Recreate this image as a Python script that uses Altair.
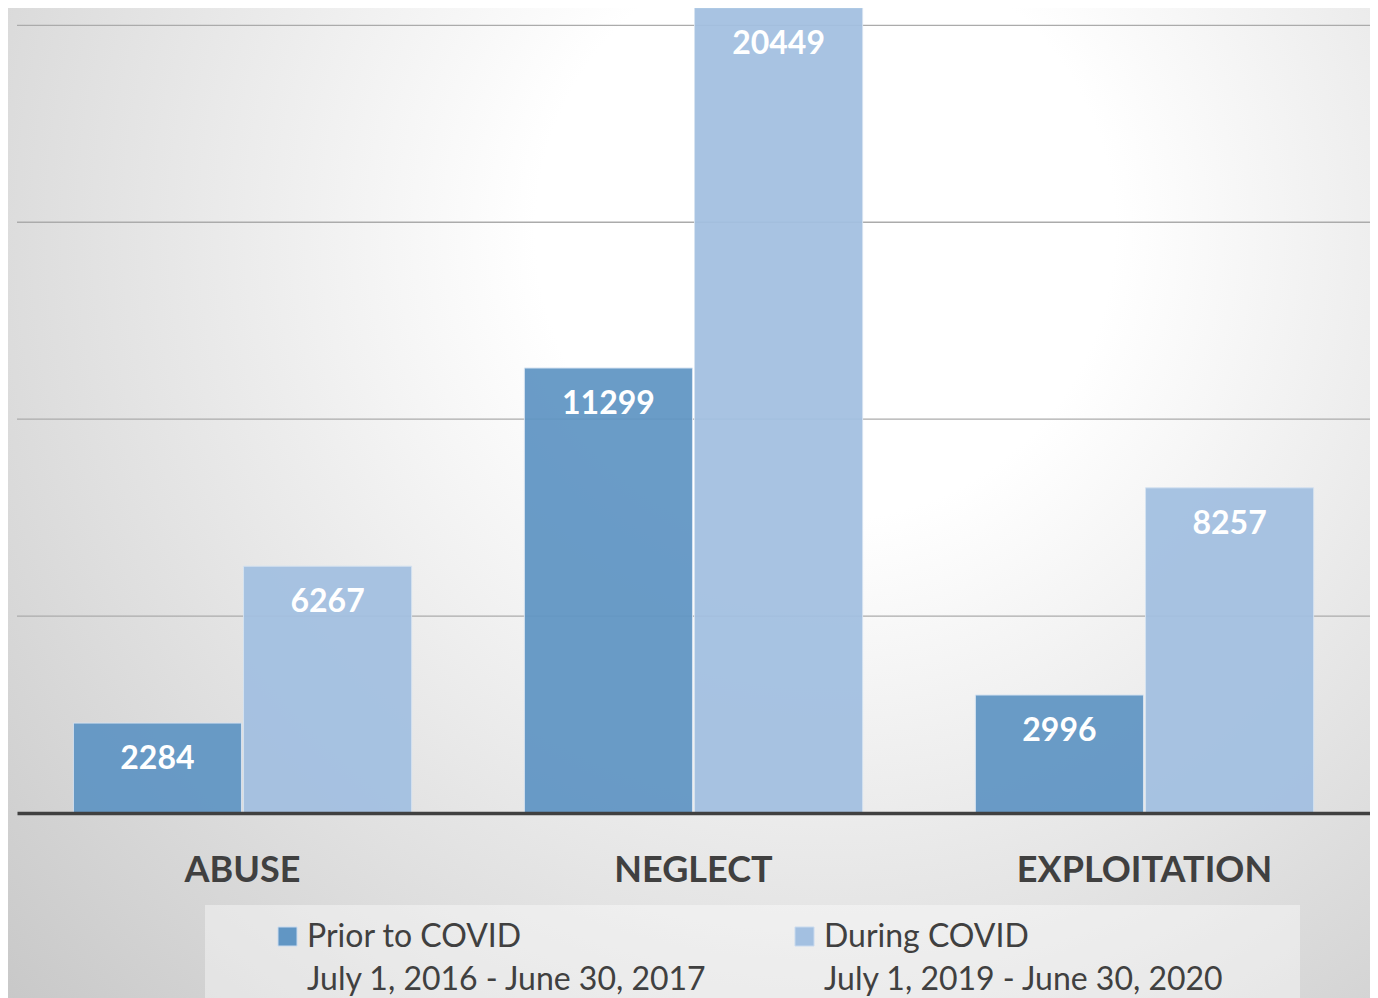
import altair as alt
import pandas as pd

categories = ["ABUSE", "NEGLECT", "EXPLOITATION"]
series = ["Prior to COVID", "During COVID"]
series_dates = ["July 1, 2016 - June 30, 2017", "July 1, 2019 - June 30, 2020"]
prior_values = [2284, 11299, 2996]
during_values = [6267, 20449, 8257]
grid_values = [5000, 10000, 15000, 20000]
colors = ["#6196c4", "#a3c0e1"]

rows = []
for c, p, d in zip(categories, prior_values, during_values):
    rows.append({"category": c, "period": series[0], "value": p})
    rows.append({"category": c, "period": series[1], "value": d})
df = pd.DataFrame(rows)
grid_df = pd.DataFrame({"g": grid_values})

FONT = "Lato"
ydom = [0, 20440]
one = pd.DataFrame({"a": [0]})

bg = alt.Chart(one).mark_rect(
    color=alt.RadialGradient(
        gradient="radial",
        stops=[alt.GradientStop(color="#ffffff", offset=0),
               alt.GradientStop(color="#ffffff", offset=0.25),
               alt.GradientStop(color="#c6c6c6", offset=1)],
        x1=0.6, y1=0.3, r1=0, x2=0.6, y2=0.3, r2=0.85)
).encode(x=alt.value(-9), x2=alt.value(1353), y=alt.value(0), y2=alt.value(990))

legbox = alt.Chart(one).mark_rect(color="#ffffff", opacity=0.4).encode(
    x=alt.value(188), x2=alt.value(1283), y=alt.value(897), y2=alt.value(1000))

grid = alt.Chart(grid_df).mark_rule(color="#ababab", strokeWidth=1.3).encode(
    y=alt.Y("g:Q", scale=alt.Scale(domain=ydom), axis=None),
    x=alt.value(0), x2=alt.value(1353))

xenc = alt.X("category:N", sort=categories,
             scale=alt.Scale(paddingInner=0.25, paddingOuter=0.125),
             axis=alt.Axis(title=None, labelAngle=0, labelFont=FONT, labelFontSize=36,
                           labelFontWeight="bold", labelColor="#404040", ticks=False,
                           tickSize=0, labelPadding=57, labelBaseline="middle",
                           labelLimit=600,
                           domainColor="#404040", domainWidth=3.5, grid=False, zindex=1))
xoff = alt.XOffset("period:N", sort=series, scale=alt.Scale(paddingInner=0.012))
yenc = alt.Y("value:Q", scale=alt.Scale(domain=ydom), axis=None)

bars = alt.Chart(df).mark_bar(opacity=0.94, stroke="#d4e2f1", strokeWidth=1).encode(
    x=xenc, xOffset=xoff, y=yenc,
    color=alt.Color("period:N", sort=series,
                    scale=alt.Scale(domain=series, range=colors), legend=None))

labels = alt.Chart(df).mark_text(baseline="middle", dy=36, color="white", font=FONT,
                                 fontSize=32, fontWeight="bold").encode(
    x=xenc, xOffset=xoff, y=yenc, text="value:Q")

# manual legend (two entries)
legend_layers = []
legend_x = [261, 778]
for i in range(2):
    item = pd.DataFrame({"label": [series[i] + "|" + series_dates[i]]})
    sw = alt.Chart(item).mark_rect(color=colors[i], stroke="#c9daee", strokeWidth=1).encode(
        x=alt.value(legend_x[i]), x2=alt.value(legend_x[i] + 19),
        y=alt.value(919), y2=alt.value(938))
    tx = alt.Chart(item).mark_text(align="left", baseline="alphabetic", lineBreak="|",
                                   lineHeight=43, font=FONT, fontSize=32,
                                   color="#404040").encode(
        x=alt.value(legend_x[i] + 29), y=alt.value(939), text="label:N")
    legend_layers += [sw, tx]

chart = alt.layer(bg, legbox, grid, bars, labels, *legend_layers).properties(
    width=1353, height=805,
    padding={"left": 9, "top": 0, "right": 0, "bottom": 185},
    autosize=alt.AutoSizeParams(type="none"),
    background="#d4d4d4"
).configure_view(strokeWidth=0)

chart.save("out.html", embed_options={"renderer": "svg", "actions": False})
